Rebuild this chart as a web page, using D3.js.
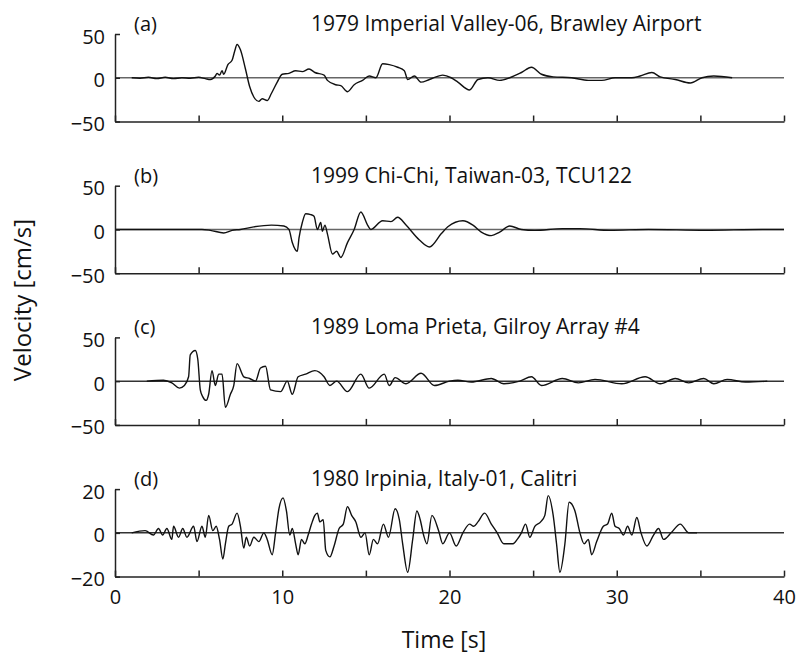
<!DOCTYPE html>
<html>
<head>
<meta charset="utf-8">
<script src="https://d3js.org/d3.v7.min.js"></script>
<style>
  body { margin: 0; background: #fff; }
  svg text { font-family: "Open Sans", "Noto Sans", sans-serif; fill: #111; }
</style>
</head>
<body>
<svg id="chart" width="796" height="654"></svg>
<script>
// panel titles, letters and y ranges
const letters = ["(a)", "(b)", "(c)", "(d)"]
const titles = [
  "1979 Imperial Valley-06, Brawley Airport",
  "1999 Chi-Chi, Taiwan-03, TCU122",
  "1989 Loma Prieta, Gilroy Array #4",
  "1980 Irpinia, Italy-01, Calitri"
]
const yMax = [50, 50, 50, 20]
const xTicks = [0, 5, 10, 15, 20, 25, 30, 35, 40]

// velocity traces [time s, velocity cm/s]
const velA = [[1.0,0],[1.5,-0.5],[2,0.5],[2.5,-1],[3,0.5],[3.5,-1],[4,0],[4.5,-0.5],[5,0.5],[5.4,-1],[5.7,-2],
  [6.0,2],[6.1,5],[6.25,3],[6.4,8],[6.5,4],[6.75,15],[7.0,20],[7.15,30],[7.3,38],[7.5,32],[7.8,10],[8.05,-10],
  [8.3,-22],[8.6,-27],[8.8,-24],[9.1,-26],[9.35,-18],[9.7,-5],[10.0,4],[10.4,5],[10.8,8],[11.2,7],[11.6,10],
  [11.95,6],[12.5,3],[12.7,-3],[13.2,-8],[13.5,-9],[13.9,-16],[14.3,-8],[14.8,-3],[15.2,2],[15.6,0],[16.0,16],
  [16.4,15],[16.9,12],[17.3,8],[17.5,-2],[17.9,2],[18.3,-5],[18.8,-2],[19.6,3],[20.1,0],[20.5,-5],[21.2,-14],
  [21.7,-2],[22.3,0],[23.0,-3],[23.6,0],[24.3,6],[24.9,12],[25.5,4],[26.2,1],[27.3,0],[28.3,-3],[29.1,-3],
  [29.9,0],[30.9,0],[31.4,2],[32.1,6],[32.6,1],[33.5,-2],[34.4,-6],[35.1,0],[35.8,2],[36.9,0]]

const velB = [[0,0],[5.2,0],[5.7,-1],[6.5,-4],[7.0,-1],[7.5,0],[8.3,3],[9.35,5],[10.1,4],[10.4,0],[10.6,-15],
  [10.9,-25],[11.0,-10],[11.2,8],[11.4,18],[11.7,17],[11.9,15],[12.1,0],[12.3,8],[12.4,-2],[12.55,5],[12.7,-5],
  [13.0,-28],[13.25,-25],[13.5,-32],[13.9,-15],[14.3,0],[14.7,20],[15.1,5],[15.3,0],[16.0,10],[16.5,9],
  [16.9,14],[17.4,5],[18.2,-12],[18.8,-20],[19.5,-5],[19.9,3],[20.8,10],[21.4,5],[21.9,-3],[22.5,-7],
  [23.0,-3],[23.6,4],[24.3,0],[25.1,-1],[26.75,1],[27.8,1],[29.6,-1],[31.9,0],[35.3,-1],[38.7,0],[40,0]]

const velC = [[1.9,0],[2.9,1],[3.4,-2],[3.85,-8],[4.15,-5],[4.4,5],[4.5,30],[4.8,35],[4.95,25],[5.1,-10],
  [5.25,-18],[5.45,-22],[5.6,-15],[5.8,12],[6.0,-5],[6.2,8],[6.4,8],[6.6,-30],[6.9,-15],[7.1,-5],[7.3,20],
  [7.7,5],[8.05,3],[8.4,0],[8.7,15],[9.0,17],[9.3,-10],[9.9,-12],[10.3,0],[10.6,-15],[10.95,5],[11.4,8],
  [11.95,12],[12.5,5],[12.85,-5],[13.25,0],[13.9,-12],[14.7,8],[15.2,-8],[16.1,8],[16.4,-5],[16.75,4],
  [17.4,-3],[18.3,9],[19.1,-5],[20.0,0],[20.5,1],[21.3,-1],[22.5,3],[23.25,-3],[24.2,0],[24.9,5],[25.5,-5],
  [26.75,3],[27.7,-2],[28.7,2],[30.3,-3],[31.7,5],[32.6,-3],[33.5,3],[34.3,-2],[35.2,3],[35.8,-3],[36.6,2],
  [37.7,-1],[39.0,0]]

const velD = [[1.0,0],[1.8,1],[2.3,-1],[2.6,2],[2.85,-1],[3.1,2],[3.4,-3],[3.5,3],[3.8,-2],[4.05,2],[4.3,-2],
  [4.7,3],[4.9,-4],[5.2,3],[5.4,-2],[5.6,8],[5.85,1],[6.05,3],[6.25,-3],[6.45,-12],[6.6,-5],[6.8,3],[7.0,4],
  [7.3,9],[7.5,3],[7.7,-7],[7.85,-2],[8.05,-6],[8.3,-2],[8.6,-4],[8.9,0],[9.1,-3],[9.4,-10],[9.6,0],[9.8,11],
  [10.05,16],[10.25,10],[10.45,-1],[10.6,2],[10.8,-5],[10.95,-10],[11.15,-3],[11.35,-5],[11.55,-1],[11.75,4],
  [11.95,8],[12.1,9],[12.25,5],[12.45,6],[12.6,-8],[12.85,-11],[13.1,-6],[13.4,2],[13.65,4],[13.9,12],
  [14.15,8],[14.4,5],[14.7,-2],[14.95,0],[15.2,-10],[15.45,-3],[15.7,-5],[16.05,4],[16.35,-2],[16.75,11],
  [17.0,6],[17.2,-5],[17.5,-18],[17.8,-3],[18.05,10],[18.25,6],[18.45,-1],[18.65,-5],[18.95,8],[19.35,1],
  [19.6,-5],[20.0,0],[20.4,-6],[20.8,0],[21.2,4],[21.45,3],[21.7,5],[22.1,9],[22.5,4],[22.85,0],[23.25,-5],
  [23.8,-5],[24.05,-3],[24.3,0],[24.55,4],[24.8,-2],[25.1,3],[25.45,5],[25.7,8],[25.9,17],[26.2,8],[26.4,-5],
  [26.6,-18],[26.9,-5],[27.15,14],[27.5,10],[27.8,0],[28.05,-5],[28.3,-3],[28.5,-10],[28.8,-4],[29.2,3],
  [29.45,4],[29.7,9],[29.9,3],[30.15,2],[30.4,-1],[30.65,3],[30.9,-1],[31.2,7],[31.45,0],[31.8,-6],[32.2,-1],
  [32.5,2],[32.8,-3],[33.25,0],[33.8,4],[34.3,0],[34.8,0]]

const series = [velA, velB, velC, velD]

const svg = d3.select("#chart")
const x = d3.scaleLinear().domain([0, 40]).range([115, 784])
const panelTop = 34, panelStep = 151.7, panelH = 87.5

series.forEach(function (data, i) {
  const top = panelTop + i * panelStep
  const bottom = top + panelH
  const y = d3.scaleLinear().domain([-yMax[i], yMax[i]]).range([bottom, top])
  const last = i === series.length - 1
  const g = svg.append("g")

  // zero line
  g.append("line")
    .attr("x1", x(0)).attr("x2", x(40))
    .attr("y1", y(0)).attr("y2", y(0))
    .attr("stroke", i < 2 ? "#666" : "#333").attr("stroke-width", 1.5)

  // trace
  g.append("path")
    .datum(data)
    .attr("fill", "none")
    .attr("stroke", "#111")
    .attr("stroke-width", 1.4)
    .attr("stroke-linejoin", "round")
    .attr("d", d3.line().curve(d3.curveMonotoneX).x(d => x(d[0])).y(d => y(d[1])))

  // x axis, ticks pointing in
  g.append("g")
    .attr("transform", "translate(0," + bottom + ")")
    .call(d3.axisBottom(x).tickValues(xTicks).tickSizeInner(-6).tickSizeOuter(0).tickPadding(13)
      .tickFormat(d => (last && d % 10 === 0) ? d : ""))
  // y axis
  const ya = g.append("g")
    .attr("transform", "translate(" + x(0) + ",0)")
    .call(d3.axisLeft(y).tickValues([-yMax[i], 0, yMax[i]]).tickSizeInner(-5).tickSizeOuter(0).tickPadding(10))
  ya.selectAll("text").attr("dy", "0.45em")

  g.selectAll(".domain, .tick line").attr("stroke", "#222").attr("stroke-width", 1.5)
  g.selectAll(".tick text").style("font-size", "20px").attr("fill", "#111")

  g.append("text").attr("x", 134).attr("y", top - 3).style("font-size", "20px").text(letters[i])
  g.append("text").attr("x", 311).attr("y", top - 3).style("font-size", "21px").text(titles[i])
})

svg.append("text")
  .attr("x", 444).attr("y", 648)
  .attr("text-anchor", "middle")
  .style("font-size", "23px")
  .text("Time [s]")

svg.append("text")
  .attr("transform", "translate(31,300) rotate(-90)")
  .attr("text-anchor", "middle")
  .style("font-size", "24px")
  .text("Velocity [cm/s]")
</script>
</body>
</html>
